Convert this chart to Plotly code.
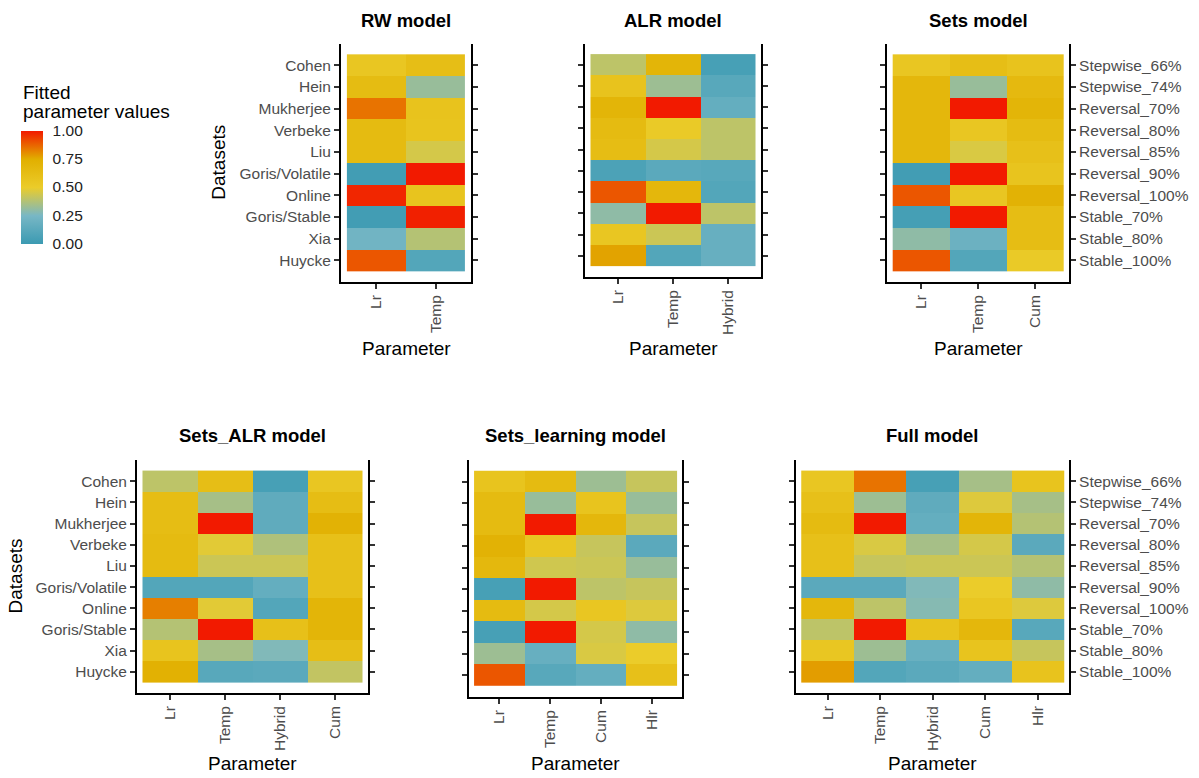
import plotly.graph_objects as go

W, H = 1199, 778

datasets = ["Cohen", "Hein", "Mukherjee", "Verbeke", "Liu", "Goris/Volatile",
            "Online", "Goris/Stable", "Xia", "Huycke"]
tasks = ["Stepwise_66%", "Stepwise_74%", "Reversal_70%", "Reversal_80%", "Reversal_85%",
         "Reversal_90%", "Reversal_100%", "Stable_70%", "Stable_80%", "Stable_100%"]

rw_params = ["Lr", "Temp"]
rw_values = [
    [0.55, 0.62], [0.64, 0.32], [0.85, 0.58], [0.65, 0.57], [0.65, 0.45],
    [0.03, 1.00], [0.98, 0.57], [0.03, 0.99], [0.22, 0.38], [0.90, 0.10],
]

alr_params = ["Lr", "Temp", "Hybrid"]
alr_values = [
    [0.40, 0.70, 0.05], [0.58, 0.33, 0.12], [0.70, 1.00, 0.17], [0.65, 0.52, 0.40],
    [0.63, 0.45, 0.40], [0.07, 0.13, 0.12], [0.90, 0.68, 0.10], [0.30, 1.00, 0.40],
    [0.55, 0.43, 0.18], [0.77, 0.10, 0.18],
]

sets_params = ["Lr", "Temp", "Cum"]
sets_values = [
    [0.55, 0.62, 0.58], [0.68, 0.32, 0.66], [0.68, 1.00, 0.70], [0.68, 0.55, 0.64],
    [0.68, 0.46, 0.60], [0.03, 1.00, 0.57], [0.90, 0.55, 0.72], [0.04, 1.00, 0.63],
    [0.30, 0.20, 0.63], [0.90, 0.10, 0.52],
]

sets_alr_params = ["Lr", "Temp", "Hybrid", "Cum"]
sets_alr_values = [
    [0.40, 0.62, 0.05, 0.55], [0.63, 0.35, 0.15, 0.63], [0.63, 1.00, 0.15, 0.72],
    [0.65, 0.48, 0.37, 0.60], [0.65, 0.43, 0.43, 0.60], [0.10, 0.10, 0.17, 0.60],
    [0.83, 0.48, 0.10, 0.70], [0.38, 1.00, 0.60, 0.70], [0.57, 0.35, 0.27, 0.62],
    [0.73, 0.12, 0.13, 0.41],
]

sets_learning_params = ["Lr", "Temp", "Cum", "Hlr"]
sets_learning_values = [
    [0.57, 0.65, 0.33, 0.42], [0.65, 0.32, 0.57, 0.32], [0.65, 1.00, 0.68, 0.42],
    [0.72, 0.55, 0.42, 0.13], [0.67, 0.44, 0.43, 0.32], [0.05, 1.00, 0.40, 0.42],
    [0.65, 0.45, 0.55, 0.47], [0.05, 1.00, 0.45, 0.30], [0.33, 0.18, 0.46, 0.50],
    [0.90, 0.12, 0.17, 0.60],
]

full_params = ["Lr", "Temp", "Hybrid", "Cum", "Hlr"]
full_values = [
    [0.55, 0.85, 0.05, 0.35, 0.57], [0.60, 0.33, 0.15, 0.47, 0.35],
    [0.65, 1.00, 0.17, 0.70, 0.38], [0.60, 0.46, 0.35, 0.45, 0.13],
    [0.60, 0.42, 0.43, 0.43, 0.38], [0.13, 0.13, 0.27, 0.50, 0.30],
    [0.68, 0.40, 0.28, 0.55, 0.47], [0.40, 1.00, 0.58, 0.68, 0.12],
    [0.55, 0.33, 0.19, 0.57, 0.42], [0.78, 0.10, 0.13, 0.17, 0.58],
]

# Zissou1-style gradient
zissou = [[0.0, "#3B9AB2"], [0.25, "#78B7C5"], [0.5, "#EBCC2A"],
          [0.75, "#E1AF00"], [1.0, "#F21A00"]]

FONT = "Liberation Sans, Arial, Helvetica, sans-serif"
TICK_GREY = "#4D4D4D"

# panel frames in pixels: left, right, top, bottom; label side: left / none / right
panels = [
    ("RW model", rw_params, rw_values, (341, 471, 43.5, 282), "left"),
    ("ALR model", alr_params, alr_values, (585, 761, 43.5, 277), "none"),
    ("Sets model", sets_params, sets_values, (887, 1069, 43.5, 282), "right"),
    ("Sets_ALR model", sets_alr_params, sets_alr_values, (137, 368, 460, 693), "left"),
    ("Sets_learning model", sets_learning_params, sets_learning_values, (469, 682, 460, 697), "none"),
    ("Full model", full_params, full_values, (796, 1069, 460, 693), "right"),
]


def px(x):
    return x / W


def py(y):
    return 1 - y / H


fig = go.Figure()
annotations = []
layout = {}

for i, (title, params, values, (l, r, t, b), side) in enumerate(panels, start=1):
    xa = "x" if i == 1 else f"x{i}"
    ya = "y" if i == 1 else f"y{i}"
    fig.add_trace(go.Heatmap(
        z=values, x=list(range(len(params))), y=list(range(len(datasets))),
        coloraxis="coloraxis", xaxis=xa, yaxis=ya, hoverinfo="skip",
    ))
    n = len(params)
    layout["xaxis" if i == 1 else f"xaxis{i}"] = dict(
        domain=[px(l), px(r)], anchor=ya, range=[-0.6, n - 0.4],
        tickmode="array", tickvals=list(range(n)), ticktext=params,
        tickangle=-90, showline=True, linecolor="black", linewidth=2,
        ticks="outside", ticklen=5, tickwidth=1.5, tickcolor="#333333",
        showgrid=False, zeroline=False, fixedrange=True,
        tickfont=dict(family=FONT, size=15.5, color=TICK_GREY),
    )
    ylabels = tasks if side == "right" else datasets
    layout["yaxis" if i == 1 else f"yaxis{i}"] = dict(
        domain=[py(b), py(t)], anchor=xa, range=[10, -1],
        tickmode="array", tickvals=list(range(len(datasets))), ticktext=ylabels,
        showticklabels=side != "none", side="right" if side == "right" else "left",
        showline=True, mirror="ticks", linecolor="black", linewidth=2,
        ticks="outside", ticklen=5, tickwidth=1.5, tickcolor="#333333",
        showgrid=False, zeroline=False, fixedrange=True,
        tickfont=dict(family=FONT, size=15.5, color=TICK_GREY),
    )
    # panel title
    title_y = 20 if t < 200 else 435
    annotations.append(dict(
        text=f"<b>{title}</b>", x=px((l + r) / 2), y=py(title_y), xref="paper", yref="paper",
        showarrow=False, xanchor="center", yanchor="middle",
        font=dict(family=FONT, size=18.5, color="black"),
    ))
    # x axis title
    xt_y = 348 if t < 200 else 763
    annotations.append(dict(
        text="Parameter", x=px((l + r) / 2), y=py(xt_y), xref="paper", yref="paper",
        showarrow=False, xanchor="center", yanchor="middle",
        font=dict(family=FONT, size=19, color="black"),
    ))

# y axis titles
for xpos, ymid in [(219, (43.5 + 282) / 2), (15, (460 + 693) / 2)]:
    annotations.append(dict(
        text="Datasets", x=px(xpos), y=py(ymid), xref="paper", yref="paper",
        showarrow=False, xanchor="center", yanchor="middle", textangle=-90,
        font=dict(family=FONT, size=19, color="black"),
    ))

# legend title
for txt, yy in [("Fitted", 92), ("parameter values", 112)]:
    annotations.append(dict(
        text=txt, x=px(21), y=py(yy), xref="paper", yref="paper",
        showarrow=False, xanchor="left", yanchor="middle",
        font=dict(family=FONT, size=19, color="black"),
    ))

fig.update_layout(
    width=W, height=H,
    margin=dict(l=0, r=0, t=0, b=0),
    paper_bgcolor="white", plot_bgcolor="white",
    coloraxis=dict(
        colorscale=zissou, cmin=0, cmax=1,
        colorbar=dict(
            x=px(21), xanchor="left", y=py(187), yanchor="middle",
            lenmode="pixels", len=113, thickness=22, thicknessmode="pixels",
            xpad=0, ypad=0, outlinewidth=0,
            tickmode="array", tickvals=[0, 0.25, 0.5, 0.75, 1.0],
            ticktext=["0.00", "0.25", "0.50", "0.75", "1.00"],
            ticks="outside", ticklen=7, tickcolor="rgba(0,0,0,0)",
            tickfont=dict(family=FONT, size=15.5, color="#222222"),
        ),
    ),
    annotations=annotations,
    **layout,
)

fig.write_html("out.html")
